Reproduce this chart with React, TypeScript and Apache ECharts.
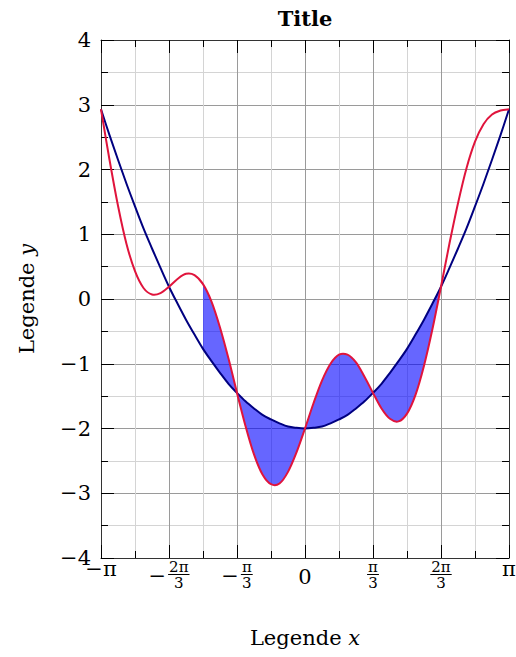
import React, { useEffect, useRef } from 'react';
import * as echarts from 'echarts';

// x positions expressed in units of π/6 (from −π to π)
const xSixths = [-6, -5.75, -5.5, -5.25, -5, -4.75, -4.5, -4.25, -4, -3.75, -3.5, -3.25, -3, -2.75, -2.5, -2.25, -2, -1.75, -1.5, -1.25, -1, -0.75, -0.5, -0.25, 0, 0.25, 0.5, 0.75, 1, 1.25, 1.5, 1.75, 2, 2.25, 2.5, 2.75, 3, 3.25, 3.5, 3.75, 4, 4.25, 4.5, 4.75, 5, 5.25, 5.5, 5.75, 6];

// dark blue curve
const blueY = [2.93, 2.53, 2.15, 1.78, 1.43, 1.09, 0.78, 0.48, 0.19, -0.07, -0.32, -0.55, -0.77, -0.96, -1.14, -1.31, -1.45, -1.58, -1.69, -1.79, -1.86, -1.92, -1.97, -1.99, -2.0, -1.99, -1.97, -1.92, -1.86, -1.79, -1.69, -1.58, -1.45, -1.31, -1.14, -0.96, -0.77, -0.55, -0.32, -0.07, 0.19, 0.48, 0.78, 1.09, 1.43, 1.78, 2.15, 2.53, 2.93];

// red curve
const redY = [2.93, 2.15, 1.44, 0.85, 0.43, 0.17, 0.07, 0.09, 0.19, 0.31, 0.39, 0.37, 0.23, -0.04, -0.44, -0.92, -1.45, -1.96, -2.4, -2.71, -2.86, -2.85, -2.67, -2.37, -2.0, -1.61, -1.26, -1.0, -0.86, -0.86, -0.98, -1.2, -1.45, -1.69, -1.85, -1.89, -1.77, -1.48, -1.03, -0.46, 0.19, 0.86, 1.48, 2.02, 2.43, 2.7, 2.85, 2.91, 2.93];

// shaded region between the curves (x in π/6 units)
const fillFrom = -3;
const fillTo = 4;

// x tick labels (values in π/6 units)
const xTickValues = [-6, -4, -2, 0, 2, 4, 6];
const xTickSign = ['\u2212', '\u2212', '\u2212', '', '', '', ''];
const xTickNum = ['\u03c0', '2\u03c0', '\u03c0', '0', '\u03c0', '2\u03c0', '\u03c0'];
const xTickDen = ['', '3', '3', '', '3', '3', ''];

const titleText = 'Title';
const xLabelWord = 'Legende';
const xLabelVar = 'x';
const yLabelVar = 'y';

const FONT = '"DejaVu Serif", serif';
const BLUE = '#000080';
const RED = '#e0143c';
const FILL = 'rgba(0,0,255,0.6)';

// Catmull-Rom control points for segment i -> i+1 (screen coordinates)
function ctrl(p: number[][], i: number) {
  const p0 = p[Math.max(i - 1, 0)];
  const p1 = p[i];
  const p2 = p[i + 1];
  const p3 = p[Math.min(i + 2, p.length - 1)];
  return [
    [p1[0] + (p2[0] - p0[0]) / 6, p1[1] + (p2[1] - p0[1]) / 6],
    [p2[0] - (p3[0] - p1[0]) / 6, p2[1] - (p3[1] - p1[1]) / 6],
  ];
}
function forward(p: number[][], i0: number, i1: number) {
  let d = '';
  for (let i = i0; i < i1; i++) {
    const [c1, c2] = ctrl(p, i);
    d += ` C ${c1[0]} ${c1[1]} ${c2[0]} ${c2[1]} ${p[i + 1][0]} ${p[i + 1][1]}`;
  }
  return d;
}
function backward(p: number[][], i0: number, i1: number) {
  let d = '';
  for (let i = i1 - 1; i >= i0; i--) {
    const [c1, c2] = ctrl(p, i);
    d += ` C ${c2[0]} ${c2[1]} ${c1[0]} ${c1[1]} ${p[i][0]} ${p[i][1]}`;
  }
  return d;
}

export default function App() {
  const ref = useRef<HTMLDivElement>(null);
  useEffect(() => {
    document.body.style.margin = '0';
    const chart = echarts.init(ref.current!, null, { renderer: 'svg' });
    const axisLine = { show: true, onZero: false, lineStyle: { color: '#333', width: 1 } };
    const axisTick = { show: true, inside: true, length: 13, lineStyle: { color: '#000', width: 1 } };
    const minorTick = { show: true, splitNumber: 2, length: 7, lineStyle: { color: '#000', width: 1 } };
    const xCommon = { type: 'value', min: -6, max: 6, interval: 2, gridIndex: 0, axisLine, axisTick, minorTick };
    const yCommon = { type: 'value', min: -4, max: 4, interval: 1, gridIndex: 0, axisLine, axisTick, minorTick };

    const curveSeries = (ys: number[], color: string, z: number) => ({
      type: 'custom',
      xAxisIndex: 0,
      yAxisIndex: 0,
      silent: true,
      z,
      data: [[0, 0]],
      renderItem: (_params: any, api: any) => {
        const pts = xSixths.map((x, i) => api.coord([x, ys[i]]));
        const d = `M ${pts[0][0]} ${pts[0][1]}` + forward(pts, 0, pts.length - 1);
        return {
          type: 'path',
          shape: { pathData: d },
          style: { fill: 'none', stroke: color, lineWidth: 2 },
        };
      },
    });

    const option: any = {
      animation: false,
      grid: { left: 101, top: 40, right: 7, bottom: 99, containLabel: false },
      xAxis: [
        {
          ...xCommon,
          position: 'bottom',
          axisLabel: { show: false },
          splitLine: { show: true, lineStyle: { color: '#9a9a9a', width: 1 } },
          minorSplitLine: { show: true, lineStyle: { color: '#d4d4d4', width: 1 } },
        },
        { ...xCommon, position: 'top', axisLabel: { show: false }, splitLine: { show: false } },
      ],
      yAxis: [
        {
          ...yCommon,
          position: 'left',
          axisLabel: {
            show: true,
            margin: 10,
            fontSize: 21,
            fontFamily: FONT,
            color: '#000',
            formatter: (v: number) => (v < 0 ? '\u2212' + Math.abs(v) : String(v)),
          },
          splitLine: { show: true, lineStyle: { color: '#9a9a9a', width: 1 } },
          minorSplitLine: { show: true, lineStyle: { color: '#d4d4d4', width: 1 } },
        },
        { ...yCommon, position: 'right', axisLabel: { show: false }, splitLine: { show: false } },
      ],
      series: [
        {
          type: 'custom',
          xAxisIndex: 0,
          yAxisIndex: 0,
          silent: true,
          z: 1,
          data: [[0, 0]],
          renderItem: (_params: any, api: any) => {
            const rp = xSixths.map((x, i) => api.coord([x, redY[i]]));
            const bp = xSixths.map((x, i) => api.coord([x, blueY[i]]));
            const i0 = xSixths.indexOf(fillFrom);
            const i1 = xSixths.indexOf(fillTo);
            const d =
              `M ${rp[i0][0]} ${rp[i0][1]}` +
              forward(rp, i0, i1) +
              ` L ${bp[i1][0]} ${bp[i1][1]}` +
              backward(bp, i0, i1) +
              ' Z';
            return { type: 'path', shape: { pathData: d }, style: { fill: FILL, stroke: 'none' } };
          },
        },
        curveSeries(blueY, BLUE, 3),
        curveSeries(redY, RED, 4),
      ],
    };
    chart.setOption(option);

    const px = (v: number) => chart.convertToPixel({ xAxisIndex: 0 }, v) as number;
    const py = (v: number) => chart.convertToPixel({ yAxisIndex: 0 }, v) as number;
    const base = py(-4);
    const canvas = document.createElement('canvas');
    const ctx = canvas.getContext('2d')!;
    const measure = (t: string, size: number) => {
      ctx.font = `${size}px "DejaVu Serif"`;
      return ctx.measureText(t).width;
    };
    const FS_MAIN = 21;
    const FS_FRAC = 15;
    const text = (t: string, x: number, y: number, size: number, extra: any = {}) => ({
      type: 'text',
      x,
      y,
      silent: true,
      style: {
        text: t,
        fontSize: size,
        fontFamily: FONT,
        fill: '#000',
        align: 'center',
        verticalAlign: 'middle',
        textAlign: 'center',
        textVerticalAlign: 'middle',
        ...extra,
      },
    });
    const els: any[] = [];
    xTickValues.forEach((v, i) => {
      const cx = px(v);
      const sign = xTickSign[i];
      const num = xTickNum[i];
      const den = xTickDen[i];
      if (!den) {
        const isDigit = /^[0-9]+$/.test(num);
        els.push(text(sign + num, cx, base + (isDigit ? 19 : 11), FS_MAIN));
      } else {
        const fw = Math.max(measure(num, FS_FRAC), measure(den, FS_FRAC)) + 2;
        const mw = sign ? measure(sign, FS_MAIN) : 0;
        const gap = sign ? 2 : 0;
        const total = mw + gap + fw;
        const start = cx - total / 2;
        if (sign) els.push(text(sign, start + mw / 2, base + 17.5, FS_MAIN));
        const fc = start + mw + gap + fw / 2;
        els.push(text(num, fc, base + 8.5, FS_FRAC));
        els.push({
          type: 'line',
          silent: true,
          shape: { x1: fc - fw / 2, y1: base + 16.5, x2: fc + fw / 2, y2: base + 16.5 },
          style: { stroke: '#000', lineWidth: 1 },
        });
        els.push(text(den, fc, base + 25, FS_FRAC));
      }
    });
    const midX = px(0);
    els.push(
      text(`${xLabelWord} {i|${xLabelVar}}`, midX, base + 80, 21, {
        rich: { i: { fontStyle: 'italic', fontSize: 21, fontFamily: FONT } },
      })
    );
    els.push({
      ...text(`${xLabelWord} {i|${yLabelVar}}`, 0, 0, 21, {
        rich: { i: { fontStyle: 'italic', fontSize: 21, fontFamily: FONT } },
      }),
      x: 27,
      y: py(0),
      rotation: Math.PI / 2,
    });
    els.push(text(titleText, midX, 18, 21, { fontWeight: 'bold' }));
    chart.setOption({ graphic: { elements: els } });

    return () => chart.dispose();
  }, []);
  return <div ref={ref} style={{ width: 516, height: 657 }} />;
}
